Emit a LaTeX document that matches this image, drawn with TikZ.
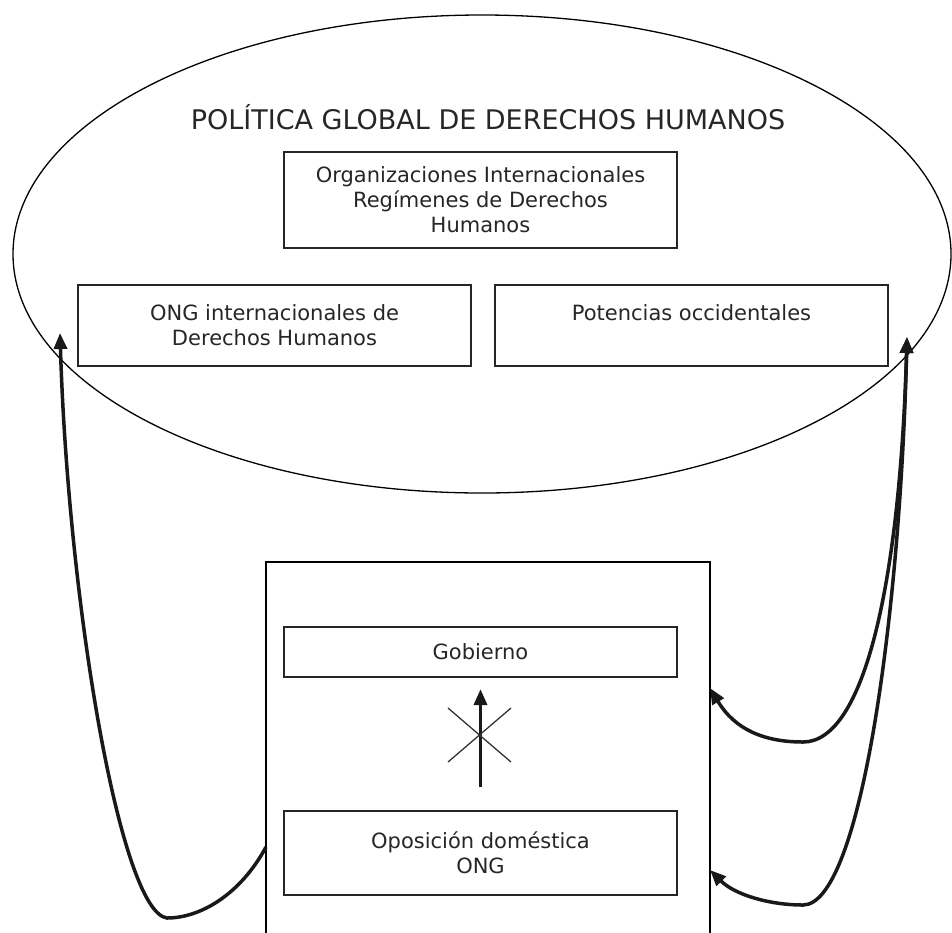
\documentclass[tikz,border=0pt]{standalone}
\usepackage{fontspec}
\setmainfont{DejaVu Sans}
\usetikzlibrary{shapes.geometric,arrows.meta}
\tikzset{
	caja/.style={draw=black!85, line width=2.2pt, align=center, inner sep=0pt, font=\fontsize{21}{25}\selectfont, text=black!85},
	curva/.style={line width=3.5pt, draw=black!90},
	punta/.style={-{Triangle[length=16pt,width=13pt]}},
	dospuntas/.style={{Triangle[length=16pt,width=13pt]}-{Triangle[length=16pt,width=13pt]}}
}
\begin{document}
\begin{tikzpicture}[x=1pt,y=-1pt]
	\useasboundingbox (0,0) rectangle (952,932);
	\draw (482,254) node[shape=ellipse, draw=black, line width=1.3pt, minimum width=938pt, minimum height=478pt, inner sep=0pt](mundo){};
	\draw (488,117) node[font=\fontsize{27}{30}\selectfont, text=black!85](titulo){POLÍTICA GLOBAL DE DERECHOS HUMANOS};
	\draw (480.5,200) node[caja, minimum width=393pt, minimum height=96pt](orgs){Organizaciones Internacionales\\Regímenes de Derechos\\Humanos};
	\draw (274.5,325.5) node[caja, minimum width=393pt, minimum height=81pt](ong){ONG internacionales de\\Derechos Humanos};
	\draw (691.5,325.5) node[caja, minimum width=393pt, minimum height=81pt](potencias){Potencias occidentales\\~};
	\draw (488,752) node[minimum width=444pt, minimum height=380pt](pais){};
	\draw[line width=1.6pt] (pais.south west) -- (pais.north west) -- (pais.north east) -- (pais.south east);
	\draw (480.5,652) node[caja, minimum width=393pt, minimum height=50pt](gob){Gobierno};
	\draw (480.5,853) node[caja, minimum width=393pt, minimum height=84pt](opos){Oposición doméstica\\ONG};
	
	\coordinate (puntaIzq) at (60,333);
	\coordinate (puntaDer) at (907,337);
	\coordinate (salidaIzq) at (266,847);
	\coordinate (entradaGob) at (710,688);
	\coordinate (entradaOpos) at (710,870);
	
	\draw [curva, punta](salidaIzq) .. controls (240,895) and (200,918) .. (167,918) .. controls (120,912) and (68,600) .. (puntaIzq);
	\draw [curva, dospuntas](entradaGob) .. controls (735,730) and (765,742) .. (803,742) .. controls (865,742) and (900,580) .. (puntaDer);
	\draw [curva, dospuntas](entradaOpos) .. controls (735,895) and (770,905) .. (803,905) .. controls (860,905) and (900,620) .. (puntaDer);
	
	\draw [curva, punta]([yshift=23pt]opos.north) -- ([yshift=-11pt]gob.south);
	\draw [line width=1.3pt, black!80](448,708) -- (511,762);
	\draw [line width=1.3pt, black!80](511,708) -- (448,762);
\end{tikzpicture}
\end{document}
